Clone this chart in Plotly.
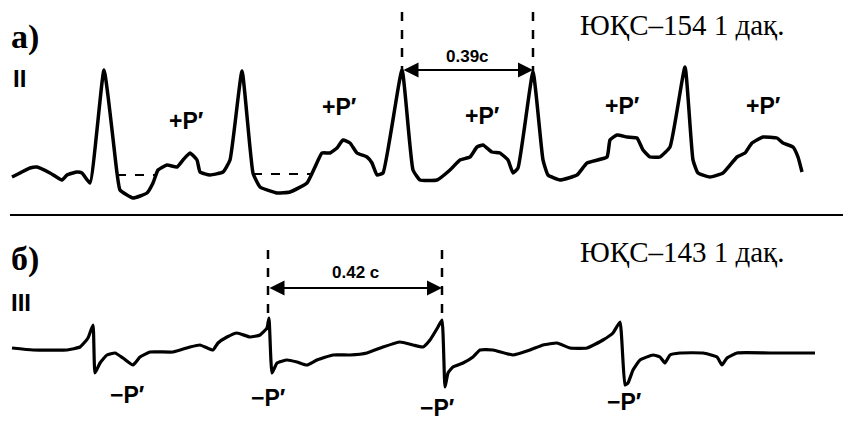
import plotly.graph_objects as go

# Trace a (lead II), traced coordinates (pixel-space units)
a_x = [12, 20, 30, 37, 50, 62, 67, 77, 82, 90, 104, 117, 120, 133, 147, 153, 158, 167, 177, 183, 190, 197, 200,
       210, 223, 230, 242, 253, 260, 277, 290, 307, 315, 322, 330, 337, 343, 350, 357, 367, 372, 377, 383, 402,
       413, 420, 437, 450, 460, 470, 477, 483, 492, 500, 508, 513, 518, 533, 543, 548, 560, 577, 587, 607, 610,
       617, 627, 637, 643, 650, 660, 670, 685, 693, 698, 710, 723, 737, 745, 752, 763, 777, 783, 793, 798, 802]
a_y = [177, 173, 168, 167, 173, 180, 175, 172, 173, 183, 70, 173, 190, 198, 193, 183, 170, 165, 167, 160, 153, 160, 172,
       175, 172, 160, 71, 173, 187, 193, 192, 183, 167, 153, 153, 148, 140, 143, 153, 157, 163, 175, 173, 70,
       170, 180, 180, 170, 160, 157, 147, 145, 152, 153, 160, 173, 168, 72, 160, 175, 180, 175, 163, 157, 140,
       135, 137, 138, 150, 157, 157, 147, 67, 160, 173, 177, 173, 157, 153, 143, 137, 138, 143, 147, 157, 172]

# Trace b (lead III)
b_x = [12, 33, 67, 80, 88, 93, 95, 100, 107, 115, 123, 133, 140, 150, 173, 190, 200, 213, 218, 227, 237, 250, 260, 267,
       269, 272, 277, 287, 297, 307, 317, 333, 350, 367, 383, 400, 413, 423, 430, 438, 442, 445, 448, 453, 463, 473,
       480, 493, 513, 530, 543, 557, 570, 587, 603, 613, 620, 625, 628, 633, 640, 653, 660, 665, 670, 680, 703, 717,
       722, 727, 737, 770, 815]
b_y = [348, 350, 350, 347, 338, 325, 373, 363, 355, 353, 358, 365, 357, 352, 352, 347, 345, 350, 343, 337, 333, 337, 335, 328,
       318, 373, 363, 360, 362, 365, 360, 355, 355, 353, 347, 342, 345, 347, 340, 327, 320, 387, 373, 367, 363, 357,
       350, 350, 355, 350, 345, 343, 348, 348, 340, 333, 322, 385, 383, 370, 360, 355, 357, 363, 355, 353, 353, 357,
       365, 358, 353, 353, 353]

# Dashed baseline segments in panel a
base_x = [[117, 157], [253, 310]]
base_y = [[175, 175], [174, 174]]

# Interval markers
int_a = {"x": [402, 533], "y_top": 12, "y_bot": 74, "arrow_y": 70, "label": "0.39c", "label_y": 56}
int_b = {"x": [268, 442], "y_top": 250, "y_bot": 323, "arrow_y": 288, "label": "0.42 c", "label_y": 272}

plus_labels = [(186, 121), (339, 107), (482, 116), (622, 106), (763, 106)]
minus_labels = [(127, 395), (268, 398), (437, 408), (624, 402)]

fig = go.Figure()
SM = 0.4
fig.add_trace(go.Scatter(x=a_x, y=a_y, mode="lines",
                         line=dict(color="black", width=3.5, shape="spline", smoothing=SM),
                         hoverinfo="skip", showlegend=False))
fig.add_trace(go.Scatter(x=b_x, y=b_y, mode="lines",
                         line=dict(color="black", width=3.2, shape="spline", smoothing=SM),
                         hoverinfo="skip", showlegend=False))
for bx, by in zip(base_x, base_y):
    fig.add_trace(go.Scatter(x=bx, y=by, mode="lines", line=dict(color="black", width=2, dash="dash"),
                             hoverinfo="skip", showlegend=False))

for it in (int_a, int_b):
    for xv in it["x"]:
        fig.add_trace(go.Scatter(x=[xv, xv], y=[it["y_top"], it["y_bot"]], mode="lines",
                                 line=dict(color="black", width=2.5, dash="dash"),
                                 hoverinfo="skip", showlegend=False))
    fig.add_annotation(x=it["x"][1], y=it["arrow_y"], ax=it["x"][0], ay=it["arrow_y"],
                       xref="x", yref="y", axref="x", ayref="y", text="", showarrow=True,
                       arrowhead=2, startarrowhead=2, arrowside="end+start", arrowwidth=2,
                       arrowsize=1.5, startarrowsize=1.5, arrowcolor="black")
    fig.add_annotation(x=(it["x"][0] + it["x"][1]) / 2, y=it["label_y"], text="<b>" + it["label"] + "</b>",
                       showarrow=False, xref="x", yref="y",
                       font=dict(family="Liberation Sans", size=17, color="black"))

# separator
fig.add_trace(go.Scatter(x=[10, 851], y=[215, 215], mode="lines", line=dict(color="black", width=2),
                         hoverinfo="skip", showlegend=False))

for (x, y) in plus_labels:
    fig.add_annotation(x=x, y=y, text="<b>+P′</b>", showarrow=False, xref="x", yref="y",
                       font=dict(family="Liberation Sans", size=23, color="black"))
for (x, y) in minus_labels:
    fig.add_annotation(x=x, y=y, text="<b>−P′</b>", showarrow=False, xref="x", yref="y",
                       font=dict(family="Liberation Sans", size=23, color="black"))

fig.add_annotation(x=9, y=37, text="<b>а)</b>", showarrow=False, xref="x", yref="y", xanchor="left",
                   font=dict(family="Liberation Serif", size=34, color="black"))
fig.add_annotation(x=9, y=259, text="<b>б)</b>", showarrow=False, xref="x", yref="y", xanchor="left",
                   font=dict(family="Liberation Serif", size=34, color="black"))
fig.add_annotation(x=11, y=78, text="<b>II</b>", showarrow=False, xref="x", yref="y", xanchor="left",
                   font=dict(family="Liberation Sans", size=24, color="black"))
fig.add_annotation(x=9, y=302, text="<b>III</b>", showarrow=False, xref="x", yref="y", xanchor="left",
                   font=dict(family="Liberation Sans", size=24, color="black"))
fig.add_annotation(x=578, y=25, text="ЮҚС–154 1 дақ.", showarrow=False, xref="x", yref="y", xanchor="left",
                   font=dict(family="Liberation Serif", size=29, color="black"))
fig.add_annotation(x=578, y=252, text="ЮҚС–143 1 дақ.", showarrow=False, xref="x", yref="y", xanchor="left",
                   font=dict(family="Liberation Serif", size=29, color="black"))

# page body has an 8px margin, so the plot area starts at screen pixel 8
fig.update_layout(width=843, height=415, margin=dict(l=0, r=0, t=0, b=0),
                  paper_bgcolor="white", plot_bgcolor="white")
fig.update_xaxes(range=[8, 851], visible=False, fixedrange=True)
fig.update_yaxes(range=[423, 8], visible=False, fixedrange=True)
fig.write_html("out.html", config={"displayModeBar": False})
